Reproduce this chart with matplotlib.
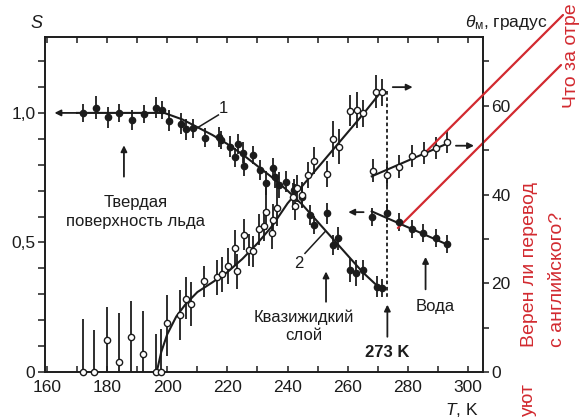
import matplotlib
matplotlib.use('Agg')
import matplotlib.pyplot as plt
from matplotlib.ticker import MultipleLocator

plt.rcParams['font.family'] = ['Liberation Sans', 'DejaVu Sans']
plt.rcParams['mathtext.fontset'] = 'custom'
plt.rcParams['mathtext.rm'] = 'Liberation Sans'
plt.rcParams['mathtext.it'] = 'Liberation Sans:italic'

INK = '#1c1c1c'
RED = '#d22a30'

# параметр порядка S поверхности льда (закрашенные точки)
t_s = [172.1, 176.3, 180.2, 184.0, 188.4, 192.3, 196.4, 198.4, 200.6, 204.5,
       206.4, 208.5, 212.4, 217.1, 218.0, 220.8, 223.5, 222.6, 225.2, 225.6,
       228.4, 230.8, 232.8, 235.1, 235.9, 237.1, 239.6, 242.1, 244.7, 247.5,
       248.8, 253.0, 255.0, 256.9, 260.8, 262.8, 265.0, 269.6, 271.3]
s_val = [1.0, 1.02, 0.983, 1.0, 0.973, 0.995, 1.02, 1.01, 0.97, 0.958,
         0.937, 0.94, 0.905, 0.907, 0.896, 0.87, 0.88, 0.828, 0.847, 0.797,
         0.836, 0.78, 0.73, 0.786, 0.752, 0.722, 0.735, 0.703, 0.677, 0.606,
         0.568, 0.613, 0.49, 0.516, 0.394, 0.381, 0.394, 0.33, 0.323]
s_err = [0.035, 0.045, 0.04, 0.035, 0.04, 0.035, 0.04, 0.035, 0.04, 0.04,
         0.04, 0.035, 0.035, 0.04, 0.035, 0.04, 0.04, 0.035, 0.04, 0.04,
         0.035, 0.04, 0.045, 0.04, 0.04, 0.05, 0.04, 0.04, 0.04, 0.04,
         0.035, 0.04, 0.04, 0.045, 0.045, 0.05, 0.04, 0.04, 0.035]

# кривая 1
t_fit1 = [170, 199, 205, 210, 215, 220, 225, 230, 235, 240, 245, 250, 255, 260, 265, 271]
s_fit1 = [1.0, 1.0, 0.975, 0.945, 0.915, 0.88, 0.84, 0.795, 0.75, 0.70, 0.645,
          0.58, 0.515, 0.45, 0.385, 0.32]

# угол θм (светлые точки)
t_th = [171.9, 175.7, 179.9, 183.9, 187.9, 192.0, 196.1, 197.9, 200.0, 204.1,
        206.2, 208.0, 212.3, 216.5, 218.3, 220.3, 222.4, 223.3, 225.5, 227.3,
        228.6, 230.6, 232.1, 232.8, 234.7, 235.3, 236.6, 242.5, 241.9, 243.0,
        244.7, 246.9, 248.9, 253.0, 255.0, 257.1, 260.8, 263.2, 265.2, 269.3,
        271.5]
th_val = [0, 0, 7.1, 2.3, 8.0, 4.1, 0, 0, 11.0, 12.9,
          16.5, 15.3, 20.5, 21.3, 22.0, 23.9, 28.0, 22.7, 30.9, 27.5,
          27.2, 32.2, 33.0, 36.1, 31.3, 34.3, 37.0, 37.3, 39.5, 41.4,
          39.9, 44.4, 47.6, 44.6, 52.5, 50.8, 58.9, 59.1, 58.3, 63.0,
          63.0]
th_lo = [0, 0, 7.1, 2.3, 8.0, 4.1, 0, 0, 7.5, 5.7,
         4.5, 5, 3.5, 4, 4, 4, 4, 4, 3.5, 3.5,
         3.5, 3.5, 3.5, 4, 3.5, 3.5, 4, 3, 3, 3,
         3, 3, 3, 3, 4, 4, 3.5, 4, 3, 3.5,
         3]
th_hi = [12, 9.5, 7.6, 10.9, 8.0, 9.6, 8.6, 9.6, 6.4, 5.6,
         5, 5, 3.5, 4, 4, 4, 4, 4, 3.5, 3.5,
         3.5, 3.5, 3.5, 6, 3.5, 3.5, 7, 5, 3, 3,
         3, 3, 3, 3, 4, 4, 3.5, 4, 3, 4,
         3]

# кривая для θм
t_fit2 = [196.5, 198, 200, 203, 206, 210, 215, 220, 225, 230, 235, 240, 245,
          250, 255, 260, 265, 271.5]
th_fit2 = [0, 4.5, 8.5, 12.5, 15.2, 18, 20.2, 22.5, 25.5, 29, 33, 38, 42,
           46, 50, 54, 58, 63.5]

# вода
t_w_th = [268.3, 273.2, 277.2, 281.5, 285.4, 289.3, 293.1]
th_w = [45.4, 44.5, 46.3, 48.6, 49.3, 50.4, 51.9]
t_w_s = [268.0, 273.2, 277.2, 281.3, 285.1, 289.4, 293.1]
s_w = [0.597, 0.615, 0.58, 0.551, 0.535, 0.516, 0.494]
t_wfit = [268, 293.5]
s_wfit = [0.62, 0.49]
th_wfit = [44.1, 51.6]

x_ticks = [160, 180, 200, 220, 240, 260, 280, 300]
s_ticks = [0, 0.5, 1.0]
s_ticklabels = ['0', '0,5', '1,0']
th_ticks = [0, 20, 40, 60]

W, H = 583, 419


def fx(px):
    return px / W


def fy(py):
    return 1 - py / H


fig = plt.figure(figsize=(W / 100, H / 100), dpi=100)
ax = fig.add_axes([fx(45), fy(372), (483 - 45) / W, (372 - 37) / H])
ax2 = ax.twinx()

ax.set_xlim(159.35, 305)
ax.set_ylim(0, 1.293)
ax2.set_ylim(0, 75.5)

# точки и линии
ax.errorbar(t_s, s_val, yerr=s_err, fmt='o', ms=4.5, mfc=INK, mec=INK,
            ecolor=INK, elinewidth=1.3, capsize=0, zorder=3)
ax.errorbar(t_w_s, s_w, yerr=0.035, fmt='o', ms=4.5, mfc=INK, mec=INK,
            ecolor=INK, elinewidth=1.3, capsize=0, zorder=3)
ax.plot(t_fit1, s_fit1, color=INK, lw=1.5)
ax.plot(t_wfit, s_wfit, color=INK, lw=1.5)

ax2.errorbar(t_th, th_val, yerr=[th_lo, th_hi], fmt='o', ms=4.5, mfc='white',
             mec=INK, mew=1.0, ecolor=INK, elinewidth=1.3, capsize=0,
             zorder=3, clip_on=False)
ax2.errorbar(t_w_th, th_w, yerr=2.5, fmt='o', ms=4.5, mfc='white', mec=INK,
             mew=1.0, ecolor=INK, elinewidth=1.3, capsize=0, zorder=3)
ax2.plot(t_fit2, th_fit2, color=INK, lw=1.5)
ax2.plot(t_wfit, th_wfit, color=INK, lw=1.5)

# пунктир 273 K
ax.plot([273, 273], [1.085, 0.29], color=INK, lw=1.3, ls=(0, (2, 1.5)))

arrow = dict(arrowstyle='-|>', color=INK, lw=1.3, mutation_scale=9,
             shrinkA=0, shrinkB=0)


def arr(a, head, tail):
    a.annotate('', xy=head, xytext=tail, arrowprops=arrow, annotation_clip=False)


arr(ax, (162.5, 1.0), (170, 1.0))
arr(ax, (260.2, 0.617), (265.3, 0.617))
arr(ax2, (281.6, 64.2), (275.0, 64.2))
arr(ax2, (302.0, 51.0), (296.0, 51.0))
arr(ax, (185.6, 0.875), (185.6, 0.754))
arr(ax, (252.8, 0.388), (252.8, 0.271))
arr(ax, (285.9, 0.444), (285.9, 0.319))
arr(ax, (273.2, 0.26), (273.2, 0.136))

# подписи
fs = 12
ax.text(189.6, 0.618, 'Твердая\nповерхность льда', ha='center', va='center',
        fontsize=fs, linespacing=1.3, color=INK)
ax.text(245.5, 0.176, 'Квазижидкий\nслой', ha='center', va='center',
        fontsize=fs, linespacing=1.3, color=INK)
ax.text(289.0, 0.252, 'Вода', ha='center', va='center', fontsize=fs, color=INK)
ax.text(273.1, 0.075, '273 K', ha='center', va='center', fontsize=fs,
        fontweight='bold', color=INK)
ax.text(218.6, 1.018, '1', ha='center', va='center', fontsize=fs, color=INK)
ax.plot([217.0, 209.8], [0.992, 0.941], color=INK, lw=1.1)
ax.text(243.6, 0.42, '2', ha='center', va='center', fontsize=fs, color=INK)
ax.plot([245.8, 252.5], [0.458, 0.542], color=INK, lw=1.1)

fig.text(fx(37), fy(23), '$S$', ha='center', va='center', fontsize=13, color=INK)
fig.text(fx(506), fy(23), r'$\theta_\mathrm{м}$, градус', ha='center',
         va='center', fontsize=12.5, color=INK)
fig.text(fx(462), fy(410), '$T$, K', ha='center', va='center', fontsize=12.5,
         color=INK)

# оси
for a in (ax, ax2):
    for sp in a.spines.values():
        sp.set_linewidth(1.2)
        sp.set_color(INK)

ax.set_xticks(x_ticks)
ax.xaxis.set_minor_locator(MultipleLocator(10))
ax.tick_params(axis='x', which='both', direction='in', top=True, bottom=True,
               length=4, width=1.1, labelsize=12.5, pad=6, colors=INK)
ax.set_yticks(s_ticks, s_ticklabels)
ax.yaxis.set_minor_locator(MultipleLocator(0.1))
ax.tick_params(axis='y', which='both', direction='out', length=5, width=1.1,
               labelsize=12.5, pad=2, colors=INK)
ax2.set_yticks(th_ticks)
ax2.yaxis.set_minor_locator(MultipleLocator(10))
ax2.tick_params(axis='y', which='both', direction='out', length=4, width=1.1,
                labelsize=12.5, pad=2, colors=INK)

# красные пометки
red = dict(arrowstyle='-', color=RED, lw=1.6, shrinkA=0, shrinkB=0)
ax2.annotate('', xy=(285.7, 49.4), xytext=(fx(563), fy(15)),
             textcoords='figure fraction', arrowprops=red, annotation_clip=False)
ax.annotate('', xy=(276.7, 0.556), xytext=(fx(561), fy(65)),
            textcoords='figure fraction', arrowprops=red, annotation_clip=False)

fig.text(fx(572), fy(108), 'Что за отре', rotation=90, rotation_mode='anchor',
         ha='left', va='center', fontsize=14, color=RED)
fig.text(fx(530), fy(347), 'Верен ли перевод', rotation=90, rotation_mode='anchor',
         ha='left', va='center', fontsize=14, color=RED)
fig.text(fx(557), fy(347), 'с английского?', rotation=90, rotation_mode='anchor',
         ha='left', va='center', fontsize=14, color=RED)
fig.text(fx(528), fy(383), 'уют', rotation=90, rotation_mode='anchor',
         ha='right', va='center', fontsize=14, color=RED)

fig.savefig('out.png', dpi=100)
